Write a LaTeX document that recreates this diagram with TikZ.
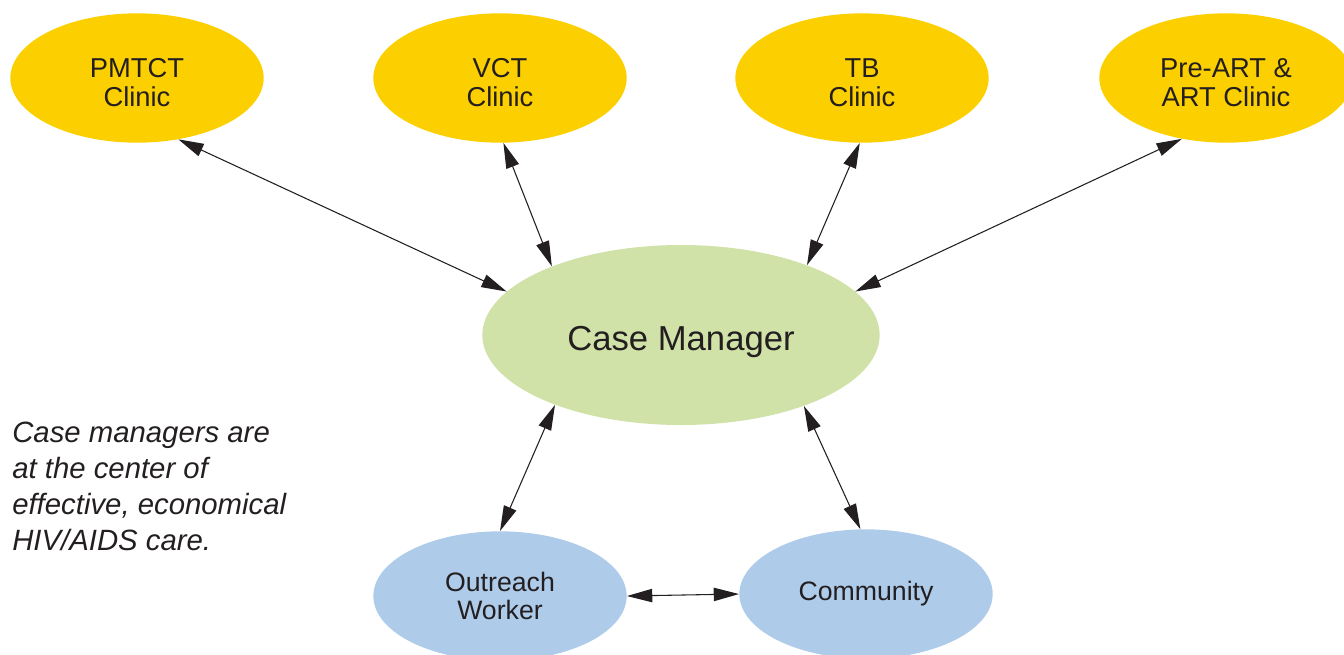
\documentclass[tikz,border=0pt]{standalone}
\usepackage{fontspec}
\setmainfont{Liberation Sans}
\usetikzlibrary{arrows.meta,shapes.geometric}

\definecolor{clinicyellow}{HTML}{FCD000}
\definecolor{hubgreen}{HTML}{D0E2A8}
\definecolor{fieldblue}{HTML}{AECBEA}
\definecolor{inkgray}{HTML}{231F20}

\begin{document}
\begin{tikzpicture}[
  x=0.75pt, y=-0.75pt,
  every node/.style={text=inkgray},
  % text height sets the labels a little below the middle
  clinic/.style={ellipse, fill=clinicyellow, inner sep=0pt, align=center,
    minimum width=190pt, minimum height=97pt, text height=43pt,
    font=\fontsize{20.5}{21.5}\selectfont},
  hub/.style={ellipse, fill=hubgreen, inner sep=0pt, align=center,
    minimum width=298pt, minimum height=135pt, text height=28.8pt,
    font=\fontsize{26}{30}\selectfont},
  field/.style={ellipse, fill=fieldblue, inner sep=0pt, align=center,
    minimum width=190pt, minimum height=97pt,
    font=\fontsize{20}{21.5}\selectfont},
  link/.style={{Triangle[length=19pt,width=10pt]}-{Triangle[length=19pt,width=10pt]},
    line width=0.8pt, draw=inkgray}
]
\useasboundingbox (0,0) rectangle (1344,654);

\node[clinic] (pmtct) at (137,78) {PMTCT\\Clinic};
\node[clinic] (vct) at (500,78) {VCT\\Clinic};
\node[clinic] (tb) at (862,78) {TB\\Clinic};
\node[clinic] (art) at (1226,78) {Pre-ART \&\\ART Clinic};

\node[hub] (manager) at (681,335) {Case Manager};

\node[field] (outreach) at (500,596) {Outreach\\Worker};
\node[field] (community) at (866,594) {Community};

\node[anchor=north west, inner sep=0pt, align=left,
  font=\fontsize{22}{27}\selectfont\itshape] (note) at (12,422)
  {Case managers are\\at the center of\\effective, economical\\HIV/AIDS care.};

% clinics to the case manager
\draw[link] (pmtct.-56) -- (manager.166);
\draw[link] (vct.-87) -- (manager.152);
\draw[link] (tb.-92) -- (manager.29);
\draw[link] (art.-126) -- (manager.14);

% case manager to the field
\draw[link] (manager.-151) -- (outreach.90);
\draw[link] (manager.-30) -- (community.95);
\draw[link] (outreach.east) -- (community.west);
\end{tikzpicture}
\end{document}
